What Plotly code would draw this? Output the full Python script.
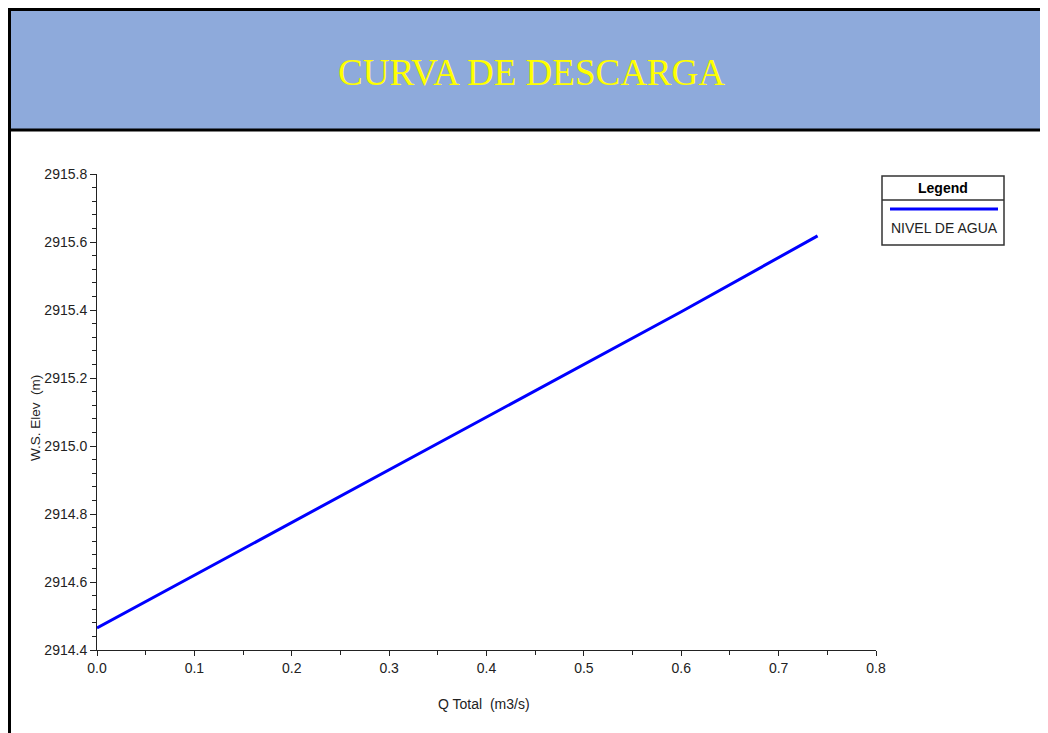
import plotly.graph_objects as go

# Data
q_total = [0.0, 0.2, 0.4, 0.6, 0.74]
ws_elev = [2914.465, 2914.775, 2915.085, 2915.395, 2915.618]
series_name = "NIVEL DE AGUA"
title_text = "CURVA DE DESCARGA"
x_title = "Q Total  (m3/s)"
y_title = "W.S. Elev  (m)"

OFF = 8  # page body margin
W, H = 1048 - OFF, 733 - OFF
L, R, T, B = 97, 876, 174, 650  # plot area pixel bounds (page coords)


def px(x):
    return (x - L) / (R - L)


def py(y):
    return (B - y) / (B - T)


fig = go.Figure()
fig.add_trace(go.Scatter(
    x=q_total, y=ws_elev, mode="lines", name=series_name,
    line=dict(color="#0000FF", width=3), showlegend=False,
))

axis_font = dict(family="Liberation Sans, Arial, sans-serif", size=14, color="#222222")

fig.update_layout(
    width=W, height=H, autosize=False,
    margin=dict(l=L - OFF, r=1048 - R, t=T - OFF, b=733 - B, pad=0),
    paper_bgcolor="white", plot_bgcolor="white",
    xaxis=dict(range=[0, 0.8], dtick=0.1, tick0=0, tickformat=".1f",
               showgrid=False, zeroline=False, showline=True, linecolor="#222222",
               linewidth=1, ticks="outside", ticklen=5, tickcolor="#222222",
               tickfont=axis_font,
               minor=dict(dtick=0.05, ticks="outside", ticklen=4, tickcolor="#222222")),
    yaxis=dict(range=[2914.4, 2915.8], dtick=0.2, tick0=2914.4, tickformat=".1f",
               showgrid=False, zeroline=False, showline=True, linecolor="#222222",
               linewidth=1, ticks="outside", ticklen=6, tickcolor="#222222",
               tickfont=axis_font,
               minor=dict(dtick=0.04, ticks="outside", ticklen=4, tickcolor="#222222")),
    showlegend=False,
)

shapes = []
# Title band
shapes.append(dict(type="rect", xref="paper", yref="paper",
                   x0=px(9.5), x1=px(1070), y0=py(9.5), y1=py(130),
                   fillcolor="#8EAADB", line=dict(color="black", width=3), layer="below"))
# Left frame border
shapes.append(dict(type="line", xref="paper", yref="paper",
                   x0=px(9.5), x1=px(9.5), y0=py(9.5), y1=py(760),
                   line=dict(color="black", width=3)))
# Legend box
shapes.append(dict(type="rect", xref="paper", yref="paper",
                   x0=px(882), x1=px(1004), y0=py(176), y1=py(245),
                   fillcolor="white", line=dict(color="#333333", width=1.5)))
shapes.append(dict(type="line", xref="paper", yref="paper",
                   x0=px(882), x1=px(1004), y0=py(200), y1=py(200),
                   line=dict(color="#333333", width=1.5)))
shapes.append(dict(type="line", xref="paper", yref="paper",
                   x0=px(890), x1=px(998), y0=py(209), y1=py(209),
                   line=dict(color="#0000FF", width=3)))
fig.update_layout(shapes=shapes)

annotations = [
    dict(text=title_text, xref="paper", yref="paper", x=px(531), y=py(72),
         xanchor="center", yanchor="middle", showarrow=False,
         font=dict(family="Liberation Serif, Times New Roman, serif", size=37, color="#FFFF00")),
    dict(text=y_title, xref="paper", yref="paper", x=px(35), y=py(418),
         xanchor="center", yanchor="middle", showarrow=False, textangle=-90,
         font=dict(family="Liberation Sans, Arial, sans-serif", size=13.5, color="#222222")),
    dict(text=x_title, xref="paper", yref="paper", x=px(484), y=py(704),
         xanchor="center", yanchor="middle", showarrow=False,
         font=dict(family="Liberation Sans, Arial, sans-serif", size=14, color="#222222")),
    dict(text="<b>Legend</b>", xref="paper", yref="paper", x=px(943), y=py(188),
         xanchor="center", yanchor="middle", showarrow=False,
         font=dict(family="Liberation Sans, Arial, sans-serif", size=14, color="black")),
    dict(text=series_name, xref="paper", yref="paper", x=px(889), y=py(228),
         xanchor="left", yanchor="middle", showarrow=False,
         font=dict(family="Liberation Sans, Arial, sans-serif", size=14, color="#222222")),
]
fig.update_layout(annotations=annotations)

fig.write_html("out.html")
